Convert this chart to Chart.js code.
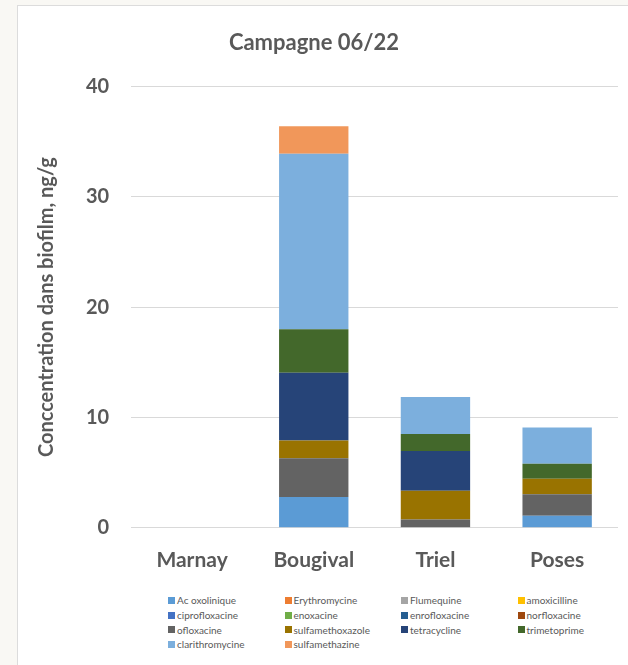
<!DOCTYPE html>
<html>
<head>
<meta charset="utf-8">
<script src="https://cdn.jsdelivr.net/npm/chart.js@4"></script>
<style>
  html, body { margin: 0; padding: 0; }
  body { width: 628px; height: 665px; background: #f9f8f4; position: relative; overflow: hidden; font-family: Lato, "Open Sans", sans-serif; }
  #frame { position: absolute; left: 17px; top: 5px; width: 640px; height: 700px; background: #fff; border-left: 1px solid #dcdcdc; border-top: 1px solid #dcdcdc; }
  #wrap { position: absolute; left: 0; top: 5px; width: 618px; height: 588px; }
  #legend { position: absolute; left: 168px; top: 593px; display: grid; grid-template-columns: repeat(4, 116.5px); grid-auto-rows: 14.7px; font-size: 10px; color: #595959; }
  #legend .item { display: flex; align-items: center; white-space: nowrap; }
  #legend .sw { width: 7px; height: 7px; margin-right: 2px; flex: none; }
</style>
</head>
<body>
<div id="frame"></div>
<div id="wrap"><canvas id="chart"></canvas></div>
<div id="legend"></div>
<script>
var sites = ['Marnay', 'Bougival', 'Triel', 'Poses'];

var molecules = [
    'Ac oxolinique', 'Erythromycine', 'Flumequine', 'amoxicilline',
    'ciprofloxacine', 'enoxacine', 'enrofloxacine', 'norfloxacine',
    'ofloxacine', 'sulfamethoxazole', 'tetracycline', 'trimetoprime',
    'clarithromycine', 'sulfamethazine'
];

var couleurs = [
    '#5b9bd5', '#ed7d31', '#a5a5a5', '#ffc000',
    '#4472c4', '#70ad47', '#255e91', '#9e480e',
    '#636363', '#997300', '#264478', '#43682b',
    '#7cafdd', '#f1975a'
];

// ng/g par site (Marnay, Bougival, Triel, Poses)
var acOxolinique     = [0, 2.8, 0, 1.1];
var erythromycine    = [0, 0, 0, 0];
var flumequine       = [0, 0, 0, 0];
var amoxicilline     = [0, 0, 0, 0];
var ciprofloxacine   = [0, 0, 0, 0];
var enoxacine        = [0, 0, 0, 0];
var enrofloxacine    = [0, 0, 0, 0];
var norfloxacine     = [0, 0, 0, 0];
var ofloxacine       = [0, 3.5, 0.75, 1.95];
var sulfamethoxazole = [0, 1.6, 2.6, 1.4];
var tetracycline     = [0, 6.15, 3.6, 0];
var trimetoprime     = [0, 3.95, 1.55, 1.35];
var clarithromycine  = [0, 15.9, 3.35, 3.3];
var sulfamethazine   = [0, 2.5, 0, 0];

var valeurs = [
    acOxolinique, erythromycine, flumequine, amoxicilline,
    ciprofloxacine, enoxacine, enrofloxacine, norfloxacine,
    ofloxacine, sulfamethoxazole, tetracycline, trimetoprime,
    clarithromycine, sulfamethazine
];

var yTicks = [0, 10, 20, 30, 40];

var gris = '#595959';
var police = 'Lato, "Open Sans", sans-serif';

var datasets = molecules.map(function (nom, i) {
    return {
        label: nom,
        data: valeurs[i],
        backgroundColor: couleurs[i],
        borderWidth: 0,
        barPercentage: 0.57,
        categoryPercentage: 1
    };
});

var ctx = document.getElementById('chart').getContext('2d');
var chart = new Chart(ctx, {
    type: 'bar',
    data: { labels: sites, datasets: datasets },
    options: {
        responsive: true,
        maintainAspectRatio: false,
        animation: false,
        layout: { padding: { left: 10, right: 0, top: 0, bottom: 0 } },
        plugins: {
            legend: { display: false },
            tooltip: { enabled: false },
            title: {
                display: true,
                text: 'Campagne 06/22',
                color: gris,
                font: { family: police, size: 22, weight: 'bold' },
                padding: { top: 25, bottom: 30 }
            }
        },
        scales: {
            x: {
                stacked: true,
                grid: { display: false, drawTicks: false },
                border: { display: false },
                ticks: { color: gris, padding: 20, font: { family: police, size: 21, weight: 'bold' } }
            },
            y: {
                stacked: true,
                min: 0,
                max: 40,
                afterBuildTicks: function (axis) {
                    axis.ticks = yTicks.map(function (v) { return { value: v }; });
                },
                grid: { color: '#d9d9d9', lineWidth: 1, drawTicks: false },
                border: { display: false },
                ticks: { color: gris, padding: 22, font: { family: police, size: 20, weight: 'bold' } },
                title: {
                    display: true,
                    text: 'Conccentration dans biofilm, ng/g',
                    color: gris,
                    font: { family: police, size: 20, weight: 'bold' },
                    padding: { top: 25, bottom: 5 }
                }
            }
        }
    }
});

// légende en grille (4 colonnes)
var leg = document.getElementById('legend');
chart.data.datasets.forEach(function (ds) {
    var item = document.createElement('div');
    item.className = 'item';
    var sw = document.createElement('span');
    sw.className = 'sw';
    sw.style.background = ds.backgroundColor;
    var txt = document.createElement('span');
    txt.textContent = ds.label;
    item.appendChild(sw);
    item.appendChild(txt);
    leg.appendChild(item);
});
</script>
</body>
</html>
